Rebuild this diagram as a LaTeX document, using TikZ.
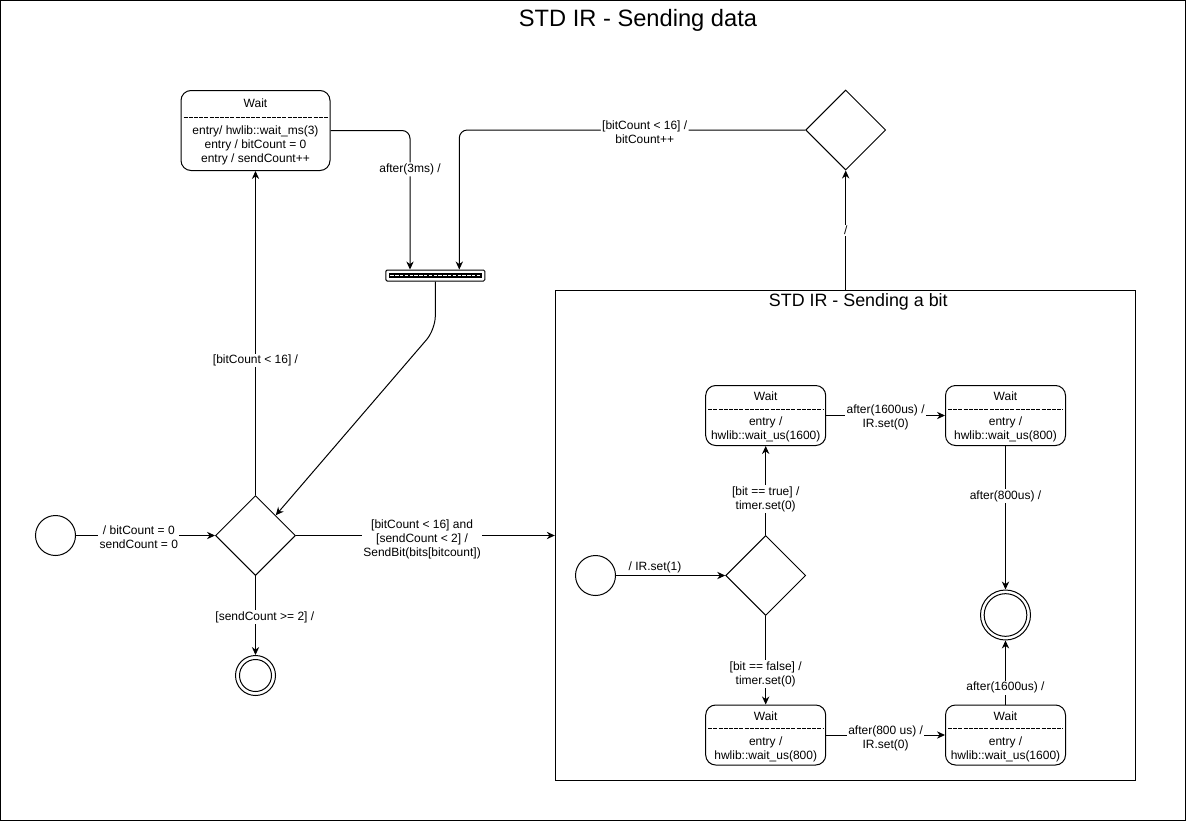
\documentclass[tikz,border=0pt]{standalone}
\usepackage{fontspec}
\setmainfont{Liberation Sans}
\usetikzlibrary{positioning}
\usetikzlibrary{calc}
\usetikzlibrary{shapes.geometric}
\usetikzlibrary{arrows.meta}

\begin{document}
\begin{tikzpicture}[x=0.75pt,y=-0.75pt,line width=0.75pt,
  every node/.style={font=\fontsize{9}{10.5}\selectfont,align=center},
  bigwait/.style={draw,rounded corners=7.5pt,minimum width=111.75pt,minimum height=60pt},
  smallwait/.style={draw,rounded corners=7.5pt,minimum width=90pt,minimum height=45pt},
  choice/.style={draw,diamond,inner sep=0pt,minimum width=60pt,minimum height=60pt},
  startstate/.style={draw,circle,inner sep=0pt,minimum size=30pt},
  endstate/.style 2 args={draw,circle,inner sep=0pt,minimum size=#1,
    path picture={\draw (path picture bounding box.center) circle (#2);}},
  sep/.style={dash pattern=on 3pt off 0.9pt,line width=0.6pt},
  arr/.style={-{Stealth[length=6pt,width=5.5pt]}},
  lbl/.style={fill=white,inner sep=1pt}]
\useasboundingbox (0,0) rectangle (1186,821);
\draw (0.5,0.5) rectangle (1185.5,820.5);
\node[font=\fontsize{17.75}{21}\selectfont] (title) at (638,20) {STD IR - Sending data};

\node[bigwait] (w1) at (255.5,130.5) {};
\node at ($(w1.center)+(0,-27)$) {Wait};
\draw[sep] ($(w1.west)+(3,-13)$) -- ($(w1.east)+(-3,-13)$);
\node at ($(w1.center)+(0,14.5)$) {entry/ hwlib::wait\_ms(3)\\entry / bitCount = 0\\entry / sendCount++};

\node[draw,rounded corners=1pt,minimum width=74.25pt,minimum height=8.25pt,inner sep=0pt] (fork) at (435.3,275.5) {};
\fill ($(fork.center)+(-46.5,-2.5)$) rectangle ($(fork.center)+(46.5,2.5)$);
\draw[white,dash pattern=on 2.6pt off 1pt,line width=0.7pt] ($(fork.center)+(-45,0)$) -- ($(fork.center)+(45,0)$);

\node[choice] (top) at (845.7,130) {};
\node[choice] (dm) at (255.5,535.5) {};
\node[startstate] (s1) at (55.5,535.5) {};
\node[endstate={30pt}{12pt}] (f1) at (255.5,675.5) {};

\node[draw,minimum width=435pt,minimum height=367.5pt,inner sep=0pt] (sub) at (845.3,535.5) {};
\node[font=\fontsize{13.4}{16}\selectfont] (subtitle) at (858.3,302) {STD IR - Sending a bit};

\node[startstate] (s2) at (595.5,575.5) {};
\node[choice] (dc) at (765.7,575.5) {};
\node[smallwait] (wa) at (765.7,415.5) {};
\node[smallwait] (wb) at (1005.5,415.5) {};
\node[smallwait] (wc) at (765.7,735) {};
\node[smallwait] (wd) at (1005.5,735) {};
\node[endstate={37.5pt}{16pt}] (f2) at (1005.5,615) {};

\node at ($(wa.center)+(0,-19)$) {Wait};
\draw[sep] ($(wa.west)+(3,-6.5)$) -- ($(wa.east)+(-3,-6.5)$);
\node at ($(wa.center)+(0,14)$) {entry /\\hwlib::wait\_us(1600)};
\node at ($(wb.center)+(0,-19)$) {Wait};
\draw[sep] ($(wb.west)+(3,-6.5)$) -- ($(wb.east)+(-3,-6.5)$);
\node at ($(wb.center)+(0,14)$) {entry /\\hwlib::wait\_us(800)};
\node at ($(wc.center)+(0,-19)$) {Wait};
\draw[sep] ($(wc.west)+(3,-6.5)$) -- ($(wc.east)+(-3,-6.5)$);
\node at ($(wc.center)+(0,14)$) {entry /\\hwlib::wait\_us(800)};
\node at ($(wd.center)+(0,-19)$) {Wait};
\draw[sep] ($(wd.west)+(3,-6.5)$) -- ($(wd.east)+(-3,-6.5)$);
\node at ($(wd.center)+(0,14)$) {entry /\\hwlib::wait\_us(1600)};

\draw[arr,rounded corners=6pt] (w1.east) -| ($(fork.north)+(-25.3,0)$) node[lbl,pos=0.64] {after(3ms) /};
\draw[arr,rounded corners=6pt] (top.west) -| ($(fork.north)+(24,0)$) node[lbl,pos=0.232,yshift=-1.5pt] {[bitCount < 16] /\\bitCount++};
\draw[arr,rounded corners=10pt] (fork.south) -- ($(fork.south)+(0,48)$) -- (dm.north east);
\draw[arr] (dm.north) -- (w1.south) node[lbl,pos=0.415] {[bitCount < 16] /};
\draw[arr] (s1.east) -- (dm.west) node[lbl,midway,xshift=-5pt,yshift=-1.5pt] {/ bitCount = 0\\sendCount = 0};
\draw[arr] (dm.south) -- (f1.north) node[lbl,pos=0.52,xshift=7pt] {[sendCount >= 2] /};
\draw[arr] (dm.east) -- (dm.east -| sub.west) node[lbl,midway,xshift=-2.5pt,yshift=-3.25pt] {[bitCount < 16] and\\{}[sendCount < 2] /\\SendBit(bits[bitcount])};
\draw[arr] (sub.north -| top.south) -- (top.south) node[lbl,midway] {/};

\draw[arr] (s2.east) -- (dc.west) node[midway,above=-2pt,xshift=-11.7pt] {/ IR.set(1)};
\draw[arr] (dc.north) -- (wa.south) node[lbl,pos=0.4] {[bit == true] /\\timer.set(0)};
\draw[arr] (dc.south) -- (wc.north) node[lbl,pos=0.66] {[bit == false] /\\timer.set(0)};
\draw[arr] (wa.east) -- (wb.west) node[lbl,midway,yshift=-1.5pt] {after(1600us) /\\IR.set(0)};
\draw[arr] (wc.east) -- (wd.west) node[lbl,midway,yshift=-2.5pt] {after(800 us) /\\IR.set(0)};
\draw[arr] (wb.south) -- (f2.north) node[lbl,pos=0.35] {after(800us) /};
\draw[arr] (wd.north) -- (f2.south) node[lbl,pos=0.26] {after(1600us) /};
\end{tikzpicture}
\end{document}
